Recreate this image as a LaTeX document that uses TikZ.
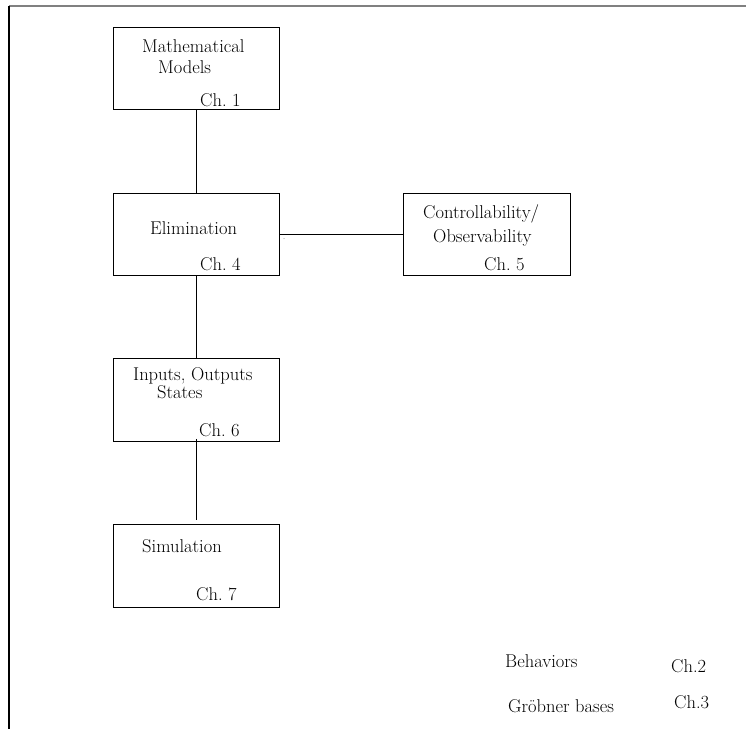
\documentclass[tikz,border=0pt]{standalone}
\begin{document}
\begin{tikzpicture}[x=1pt,y=-1pt,
  box/.style={draw,line width=0.9pt,rectangle,inner sep=0pt,minimum width=166pt,minimum height=82pt},
  lbl/.style={anchor=base west,inner sep=0pt,font=\fontsize{18.5}{22}\selectfont},
  conn/.style={line width=0.9pt}]
\useasboundingbox (0,0) rectangle (746,729);
\fill[white] (0,0) rectangle (746,729);
% frame
\coordinate (tl) at (9,6);
\coordinate (tr) at (746,6);
\coordinate (bl) at (9,729);
\draw[line width=1.8pt,gray] (tl) -- (tr);
\draw[line width=1.4pt] (tl) -- (bl);
% boxes
\node[box] (b1) at (196,68) {};
\node[box] (b2) at (196,234) {};
\node[box,minimum width=167pt] (b3) at (486.5,234) {};
\node[box,minimum height=83pt] (b4) at (196,400) {};
\node[box,minimum height=83pt] (b5) at (196,566) {};
% texts
\node[lbl] (t1a) at (142,52) {Mathematical};
\node[lbl] (t1b) at (158,73) {Models};
\node[lbl] (t1c) at (200,106) {Ch.\ 1};
\node[lbl] (t2a) at (150,234) {Elimination};
\node[lbl] (t2c) at (200,270) {Ch.\ 4};
\node[lbl] (t3a) at (423,218) {Controllability/};
\node[lbl] (t3b) at (433,242.5) {Observability};
\node[lbl] (t3c) at (484,270) {Ch.\ 5};
\node[lbl] (t4a) at (133,380) {Inputs, Outputs};
\node[lbl] (t4b) at (157,398) {States};
\node[lbl] (t4c) at (199,436) {Ch.\ 6};
\node[lbl] (t5a) at (142,552) {Simulation};
\node[lbl] (t5c) at (196,600) {Ch.\ 7};
\node[lbl] (l1) at (505,667) {Behaviors};
\node[lbl] (l2) at (671,672) {Ch.2};
\node[lbl] (l3) at (508,712) {Gr\"obner bases};
\node[lbl] (l4) at (674,708) {Ch.3};
% connectors
\draw[conn] (b1.south) -- (b2.north);
\draw[conn] (b2.east) -- (b3.west);
\draw[conn] (b2.south) -- (b4.north);
\draw[conn] ([yshift=3pt]b4.south) -- ([yshift=4pt]b5.north);
\fill[gray] (284,238.5) circle (0.5);
\end{tikzpicture}
\end{document}
